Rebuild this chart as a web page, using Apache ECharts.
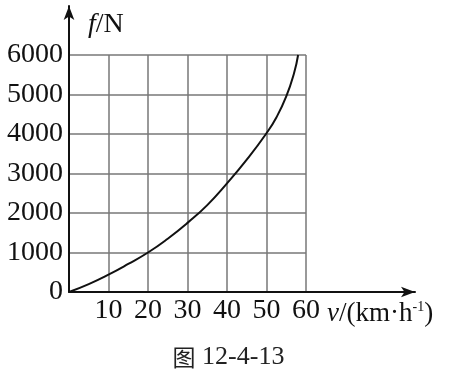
<!DOCTYPE html>
<html><head><meta charset="utf-8">
<script src="https://cdn.jsdelivr.net/npm/echarts@6/dist/echarts.min.js"></script>
<style>html,body{margin:0;padding:0;background:#fff}#c{width:457px;height:376px}</style>
</head><body><div id="c"></div>
<script>
// speed v (km/h) and force f (N)
var speeds = [0, 5, 10, 15, 20, 25, 30, 35, 40, 45, 50, 52.5, 55, 57, 58];
var forces = [0, 200, 440, 710, 1000, 1350, 1750, 2200, 2750, 3350, 4020, 4420, 4950, 5550, 6000];
var xTicks = [0, 10, 20, 30, 40, 50, 60];
var yTicks = [0, 1000, 2000, 3000, 4000, 5000, 6000];
var caption = '图 12-4-13';

var serif = '"Liberation Serif","DejaVu Serif",serif';
var chart = echarts.init(document.getElementById('c'), null, {renderer: 'canvas'});
var pts = speeds.map(function (v, i) { return [v, forces[i]]; });
chart.setOption({
  animation: false,
  backgroundColor: '#fff',
  title: [
    {text: '{i|f}/N', left: 83, top: 6, textStyle: {fontFamily: serif, fontSize: 28, fontWeight: 'normal', color: '#111',
      rich: {i: {fontFamily: serif, fontStyle: 'italic', fontSize: 28, color: '#111'}}}},
    {text: '{i|v}/(km·h{s|-1})', left: 322, top: 295, textStyle: {fontFamily: serif, fontSize: 27, fontWeight: 'normal', color: '#111',
      rich: {i: {fontFamily: serif, fontStyle: 'italic', fontSize: 27, color: '#111'}, s: {fontFamily: serif, fontSize: 14, color: '#111', verticalAlign: 'top', padding: [0, 0, 12, 0]}}}},
    {text: '{c|图} ' + caption.slice(2), left: 'center', top: 339, textStyle: {fontFamily: serif, fontSize: 26, fontWeight: 'normal', color: '#222',
      rich: {c: {fontFamily: '"Noto Sans CJK SC",serif', fontSize: 23, color: '#222'}}}}
  ],
  grid: [
    {left: 69, top: 55, width: 237, height: 237},
    {left: 69, top: 6, width: 346, height: 286}
  ],
  xAxis: [
    {type: 'value', gridIndex: 0, min: xTicks[0], max: xTicks[xTicks.length - 1], interval: 10,
      axisLine: {show: false}, axisTick: {show: false},
      splitLine: {show: true, lineStyle: {color: '#777', width: 1.5}},
      axisLabel: {margin: 5, fontFamily: serif, fontSize: 28, color: '#111',
        formatter: function (v) { return v === 0 ? '' : String(v); }}},
    {type: 'value', gridIndex: 1, min: 0, max: 1,
      axisLine: {show: true, onZero: false, symbol: ['none', 'arrow'], symbolSize: [8, 14], lineStyle: {color: '#111', width: 2}},
      axisTick: {show: false}, axisLabel: {show: false}, splitLine: {show: false}}
  ],
  yAxis: [
    {type: 'value', gridIndex: 0, min: yTicks[0], max: yTicks[yTicks.length - 1], interval: 1000,
      axisLine: {show: false}, axisTick: {show: false},
      splitLine: {show: true, lineStyle: {color: '#777', width: 1.5}},
      axisLabel: {margin: 6, fontFamily: serif, fontSize: 28, color: '#111',
        formatter: function (v) { return String(v); }}},
    {type: 'value', gridIndex: 1, min: 0, max: 1,
      axisLine: {show: true, onZero: false, symbol: ['none', 'arrow'], symbolSize: [8, 14], lineStyle: {color: '#111', width: 2}},
      axisTick: {show: false}, axisLabel: {show: false}, splitLine: {show: false}}
  ],
  series: [{
    type: 'line', xAxisIndex: 0, yAxisIndex: 0, data: pts, smooth: 0.5, showSymbol: false,
    lineStyle: {color: '#111', width: 2}, z: 5
  }]
});
</script></body></html>
